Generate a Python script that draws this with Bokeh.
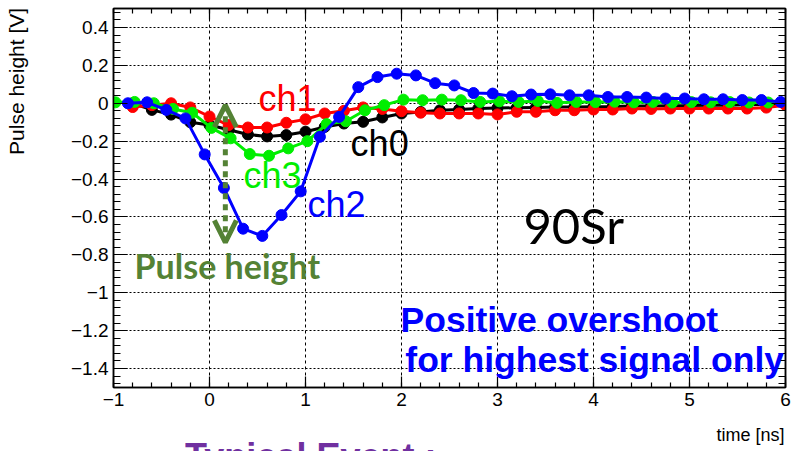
import numpy as np
from bokeh.plotting import figure
from bokeh.layouts import column
from bokeh.models import (ColumnDataSource, FixedTicker, LinearAxis, Range1d,
                          Label, Arrow, OpenHead, Grid, Div)
from bokeh.embed import file_html
from bokeh.resources import INLINE

# ---- sampled pulses (time in ns, amplitude in V) ----
t_ch0 = np.round(np.arange(35) * 0.2 - 0.8, 2)
v_ch0 = [0.0, -0.035, -0.06, -0.10, -0.115, -0.14, -0.165, -0.175, -0.168, -0.15,
         -0.125, -0.107, -0.098, -0.075, -0.054, -0.046, -0.037, -0.033, -0.028, -0.025,
         -0.024, -0.022, -0.02, -0.02, -0.018, -0.017, -0.015, -0.015, -0.013, -0.012,
         -0.01, -0.01, -0.008, -0.006, -0.003]

t_ch1 = np.round(np.arange(35) * 0.2 - 0.8, 2)
v_ch1 = [-0.02, -0.01, 0.0, -0.022, -0.07, -0.115, -0.128, -0.128, -0.103, -0.085,
         -0.054, -0.04, -0.022, -0.03, -0.042, -0.05, -0.054, -0.054, -0.054, -0.059,
         -0.045, -0.045, -0.037, -0.037, -0.033, -0.033, -0.028, -0.03, -0.028, -0.028,
         -0.028, -0.028, -0.028, -0.023, -0.01]

t_ch2 = np.round(np.arange(35) * 0.2 - 0.85, 2)
v_ch2 = [0.0, 0.005, -0.035, -0.08, -0.27, -0.447, -0.662, -0.70, -0.59, -0.465,
         -0.177, -0.072, 0.085, 0.138, 0.156, 0.147, 0.106, 0.094, 0.054, 0.051,
         0.037, 0.046, 0.047, 0.042, 0.042, 0.033, 0.033, 0.030, 0.025, 0.025,
         0.021, 0.021, 0.017, 0.017, 0.007]

t_ch3 = np.round(np.arange(35) * 0.2 - 0.98, 2)
v_ch3 = [0.005, 0.007, 0.0, -0.03, -0.05, -0.13, -0.185, -0.268, -0.277, -0.238,
         -0.2, -0.11, -0.095, -0.037, -0.01, 0.019, 0.016, 0.019, 0.016, 0.007,
         0.01, 0.007, 0.012, 0.002, 0.007, 0.006, 0.008, 0.005, 0.007, 0.004,
         0.006, 0.005, 0.006, 0.004, 0.004]

# axis ticks
x_major = [-1, 0, 1, 2, 3, 4, 5, 6]
x_minor = list(np.round(np.arange(-1.0, 6.001, 0.2), 2))
y_major = [-1.4, -1.2, -1.0, -0.8, -0.6, -0.4, -0.2, 0.0, 0.2, 0.4]
y_minor = list(np.round(np.arange(-1.52, 0.52, 0.04), 2))
y_labels = ["\u22121.4", "\u22121.2", "\u22121", "\u22120.8", "\u22120.6",
            "\u22120.4", "\u22120.2", "0", "0.2", "0.4"]
x_labels = ["\u22121", "0", "1", "2", "3", "4", "5", "6"]

GREEN_DK = "#548235"
SANS = "Liberation Sans"
NBSP = "\u00a0"

p = figure(width=802, height=451, output_backend="svg", toolbar_location=None,
           x_range=Range1d(-1, 6), y_range=Range1d(-1.5, 0.5),
           x_axis_type=None, y_axis_type=None,
           min_border_left=113, min_border_right=17, min_border_top=8,
           min_border_bottom=64)
p.background_fill_color = "white"
p.border_fill_color = "white"
p.outline_line_color = "black"
p.outline_line_width = 1.5


def make_axis(ticks, minor, labels, tick_len, show_labels):
    ax = LinearAxis(ticker=FixedTicker(ticks=ticks, minor_ticks=minor))
    ax.major_tick_in = tick_len
    ax.major_tick_out = 0
    ax.minor_tick_in = tick_len // 2
    ax.minor_tick_out = 0
    ax.axis_line_color = "black"
    ax.axis_line_width = 1.5
    ax.major_tick_line_width = 1.2
    ax.minor_tick_line_width = 1.2
    ax.major_label_text_font = SANS
    ax.major_label_text_color = "black"
    if show_labels:
        ax.major_label_overrides = {t: s for t, s in zip(ticks, labels)}
        ax.major_label_text_font_size = "19px"
        ax.major_label_standoff = 5
    else:
        ax.major_label_overrides = {t: "" for t in ticks}
        ax.major_label_text_font_size = "1px"
        ax.major_label_standoff = 0
    return ax


y_axis = make_axis(y_major, y_minor, y_labels, 14, True)
x_axis = make_axis(x_major, x_minor, x_labels, 11, True)

# axis titles sit at the far (high) end of each axis, as in ROOT; the label is
# centred on the axis end, so trailing no-break spaces push the words inward
for ax, title, pad, standoff, size in [(x_axis, "time [ns]", 14, 16, "18px"),
                                       (y_axis, "Pulse height [V]", 25, 40, "21px")]:
    ax.axis_label = title + NBSP * pad
    ax.axis_label_align = "end"
    ax.axis_label_standoff = standoff
    ax.axis_label_text_font = SANS
    ax.axis_label_text_font_style = "normal"
    ax.axis_label_text_font_size = size
    ax.axis_label_text_color = "black"

p.add_layout(y_axis, "left")
p.add_layout(make_axis(y_major, y_minor, y_labels, 14, False), "right")
p.add_layout(x_axis, "below")
p.add_layout(make_axis(x_major, x_minor, x_labels, 11, False), "above")

# dotted grid at the major ticks
p.add_layout(Grid(dimension=0, ticker=FixedTicker(ticks=x_major),
                  grid_line_color="black", grid_line_dash="3 3", grid_line_width=1))
p.add_layout(Grid(dimension=1, ticker=FixedTicker(ticks=y_major),
                  grid_line_color="black", grid_line_dash="2 2", grid_line_width=1))

# the four channels: line plus markers
series = [
    (t_ch0, v_ch0, "black"),
    (t_ch1, v_ch1, "#ff0000"),
    (t_ch3, v_ch3, "#00ee00"),
    (t_ch2, v_ch2, "#0000ff"),
]
for t, v, col in series:
    src = ColumnDataSource(dict(t=t, v=v))
    p.line("t", "v", source=src, line_color=col, line_width=3)
    p.scatter("t", "v", source=src, size=11, fill_color=col, line_color=col)

# channel labels
for txt, x, y, col in [("ch1", 0.51, 0.026, "#ff0000"),
                       ("ch0", 1.47, -0.21, "black"),
                       ("ch3", 0.355, -0.383, "#00ee00"),
                       ("ch2", 1.02, -0.535, "#0000ff")]:
    p.add_layout(Label(x=x, y=y, text=txt, text_color=col, text_font=SANS,
                       text_font_size="36px", text_baseline="alphabetic"))

p.add_layout(Label(x=3.27, y=-0.64, text="90Sr", text_color="black",
                   text_font="Lato", text_font_size="49px", text_baseline="alphabetic"))

# pulse-height arrow
p.add_layout(Arrow(start=OpenHead(size=22, line_width=5, line_color=GREEN_DK),
                   end=OpenHead(size=22, line_width=5, line_color=GREEN_DK),
                   x_start=0.165, y_start=-0.01, x_end=0.165, y_end=-0.734,
                   line_color=GREEN_DK, line_width=5, line_dash="6 5"))
p.add_layout(Label(x=-0.78, y=-0.855, text="Pulse height", text_color=GREEN_DK,
                   text_font="Lato", text_font_style="bold", text_font_size="34px",
                   text_baseline="alphabetic"))

# overshoot note, sized so that the second line stays inside the frame
p.add_layout(Label(x=1.99, y=-1.143, text="Positive overshoot", text_color="#0000ff",
                   text_font=SANS, text_font_style="bold",
                   text_font_size="35.5px", text_baseline="alphabetic"))
p.add_layout(Label(x=2.04, y=-1.353, text="for highest signal only", text_color="#0000ff",
                   text_font=SANS, text_font_style="bold",
                   text_font_size="35.5px", text_baseline="alphabetic"))

# slide heading that starts just below the plot
heading = Div(text="Typical Event :", width=320, height=15, margin=(-15, 0, 0, 185),
              styles={"color": "#7030a0", "font-family": SANS, "font-weight": "bold",
                      "font-size": "36px", "line-height": "normal",
                      "overflow": "hidden", "white-space": "nowrap"})

page = column(p, heading, spacing=0)
open("out.html", "w").write(file_html(page, INLINE))
